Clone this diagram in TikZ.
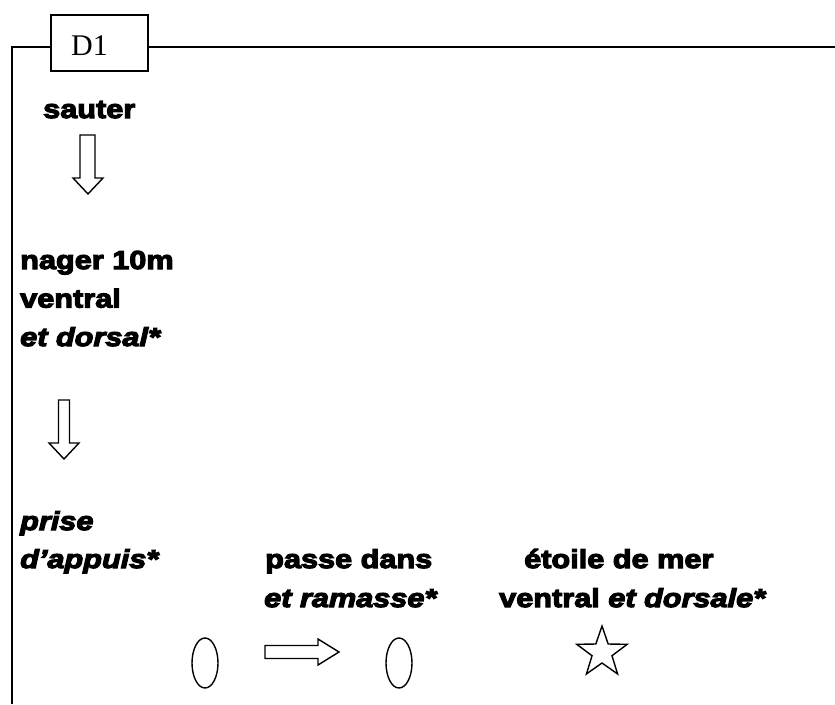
\documentclass[tikz,border=0pt]{standalone}
\usepackage{fontspec}
\usetikzlibrary{shapes.geometric}
\setmainfont{Liberation Sans}
\newfontfamily\heavy{Liberation Sans}[FakeStretch=1.18,FakeBold=4.5]
\newfontfamily\tnr{Liberation Serif}
\begin{document}
\begin{tikzpicture}[x=1pt,y=-1pt,
  txt/.style={anchor=base west,inner sep=0pt,font=\heavy\bfseries\fontsize{26}{31}\selectfont},
  itx/.style={txt,font=\heavy\bfseries\itshape\fontsize{26}{31}\selectfont},
  frame/.style={line width=1.8pt},
  shapeline/.style={line width=1.4pt,line join=miter},
  ring/.style={draw,shapeline,ellipse,minimum width=26pt,minimum height=50pt,inner sep=0pt}]
\useasboundingbox (0,0) rectangle (835,704);
% frame and tab
\node[draw,frame,minimum width=97pt,minimum height=56pt,inner sep=0pt,anchor=north west] (tab) at (50,14) {};
\node[anchor=base west,inner sep=0pt,font=\tnr\fontsize{30}{36}\selectfont] (d1) at (71,55) {D1};
\coordinate (fl) at (12,704);
\coordinate (ftl) at (12,47);
\coordinate (fr) at (835,47);
\draw[frame] (fl) -- (ftl) -- (tab.west|-ftl);
\draw[frame] (tab.east|-ftl) -- (fr);
% left column
\node[txt] (sauter) at (43,118) {sauter};
\draw[shapeline] (80,135) -- (95,135) -- (95,178) -- (103,178) -- (88,194) -- (73,178) -- (80,178) -- cycle;
\node[txt] (nager) at (20,269) {nager 10m};
\node[txt] (ventral) at (20,307.5) {ventral};
\node[itx] (dorsal) at (20,346) {et dorsal*};
\draw[shapeline] (58.5,400) -- (69.5,400) -- (69.5,443) -- (79,443) -- (64,459) -- (49,443) -- (58.5,443) -- cycle;
\node[itx] (prise) at (20,530) {prise};
\node[itx] (appuis) at (20,568) {d’appuis*};
% middle
\node[txt] (passe) at (265,568) {passe dans};
\node[itx] (ramasse) at (264,607) {et ramasse*};
\node[ring] (o1) at (205,663) {};
\node[ring] (o2) at (399,663) {};
\draw[shapeline] (265,645.5) -- (318,645.5) -- (318,639) -- (339,652) -- (318,665) -- (318,658.5) -- (265,658.5) -- cycle;
% right
\node[txt] (etoile) at (524,568) {étoile de mer};
\node[txt] (vd) at (499,607) {ventral \itshape et dorsale*};
\draw[shapeline] (602,626)
  \foreach \i in {1,...,9} { -- ({602+(mod(\i,2)==0 ? 26.5 : 10.5)*sin(36*\i)},{652.5-(mod(\i,2)==0 ? 26.5 : 10.5)*cos(36*\i)}) } -- cycle;
\end{tikzpicture}
\end{document}
